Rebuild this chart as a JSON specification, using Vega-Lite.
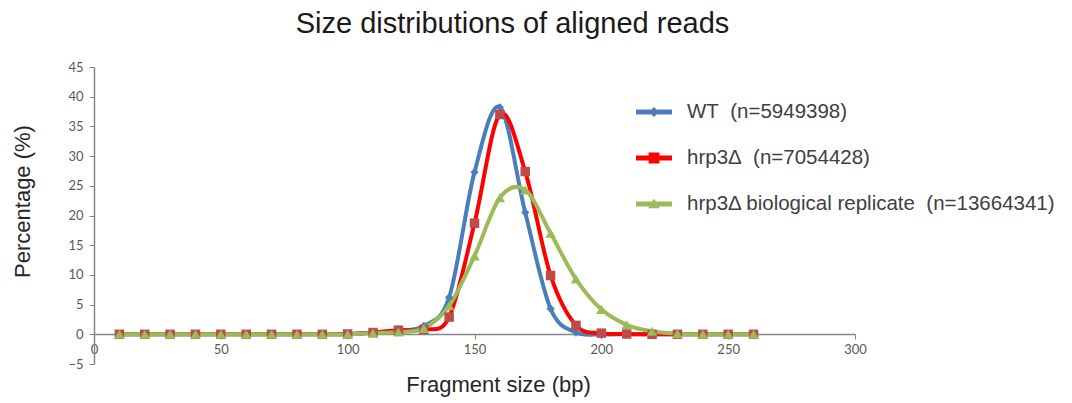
{
  "$schema": "https://vega.github.io/schema/vega-lite/v6.json",
  "width": 761,
  "height": 297,
  "autosize": "none",
  "padding": {"left": 94, "top": 67, "right": 217, "bottom": 39},
  "background": "white",
  "config": {"view": {"stroke": null}, "font": "Liberation Sans"},
  "title": {"text": "Size distributions of aligned reads", "fontSize": 29, "fontWeight": "normal", "color": "#1a1a1a", "font": "Liberation Sans", "anchor": "middle", "dx": 38, "offset": 22},
  "datasets": {
    "d": [
      {"x": 10, "series": "WT", "pct": 0}, {"x": 20, "series": "WT", "pct": 0}, {"x": 30, "series": "WT", "pct": 0}, {"x": 40, "series": "WT", "pct": 0}, {"x": 50, "series": "WT", "pct": 0}, {"x": 60, "series": "WT", "pct": 0}, {"x": 70, "series": "WT", "pct": 0}, {"x": 80, "series": "WT", "pct": 0}, {"x": 90, "series": "WT", "pct": 0}, {"x": 100, "series": "WT", "pct": 0.05}, {"x": 110, "series": "WT", "pct": 0.3}, {"x": 120, "series": "WT", "pct": 0.6}, {"x": 130, "series": "WT", "pct": 1.4}, {"x": 140, "series": "WT", "pct": 6.2}, {"x": 150, "series": "WT", "pct": 27.3}, {"x": 160, "series": "WT", "pct": 38.2}, {"x": 170, "series": "WT", "pct": 20.5}, {"x": 180, "series": "WT", "pct": 4.3}, {"x": 190, "series": "WT", "pct": 0.3}, {"x": 200, "series": "WT", "pct": 0}, {"x": 210, "series": "WT", "pct": 0}, {"x": 220, "series": "WT", "pct": 0}, {"x": 230, "series": "WT", "pct": 0}, {"x": 240, "series": "WT", "pct": 0}, {"x": 250, "series": "WT", "pct": 0}, {"x": 260, "series": "WT", "pct": 0},
      {"x": 10, "series": "hrp3", "pct": 0}, {"x": 20, "series": "hrp3", "pct": 0}, {"x": 30, "series": "hrp3", "pct": 0}, {"x": 40, "series": "hrp3", "pct": 0}, {"x": 50, "series": "hrp3", "pct": 0}, {"x": 60, "series": "hrp3", "pct": 0}, {"x": 70, "series": "hrp3", "pct": 0}, {"x": 80, "series": "hrp3", "pct": 0}, {"x": 90, "series": "hrp3", "pct": 0}, {"x": 100, "series": "hrp3", "pct": 0.05}, {"x": 110, "series": "hrp3", "pct": 0.3}, {"x": 120, "series": "hrp3", "pct": 0.7}, {"x": 130, "series": "hrp3", "pct": 0.8}, {"x": 140, "series": "hrp3", "pct": 2.9}, {"x": 150, "series": "hrp3", "pct": 18.7}, {"x": 160, "series": "hrp3", "pct": 37.0}, {"x": 170, "series": "hrp3", "pct": 27.4}, {"x": 180, "series": "hrp3", "pct": 9.9}, {"x": 190, "series": "hrp3", "pct": 1.5}, {"x": 200, "series": "hrp3", "pct": 0.2}, {"x": 210, "series": "hrp3", "pct": 0.05}, {"x": 220, "series": "hrp3", "pct": 0}, {"x": 230, "series": "hrp3", "pct": 0}, {"x": 240, "series": "hrp3", "pct": 0}, {"x": 250, "series": "hrp3", "pct": 0}, {"x": 260, "series": "hrp3", "pct": 0},
      {"x": 10, "series": "rep", "pct": 0}, {"x": 20, "series": "rep", "pct": 0}, {"x": 30, "series": "rep", "pct": 0}, {"x": 40, "series": "rep", "pct": 0}, {"x": 50, "series": "rep", "pct": 0}, {"x": 60, "series": "rep", "pct": 0}, {"x": 70, "series": "rep", "pct": 0}, {"x": 80, "series": "rep", "pct": 0}, {"x": 90, "series": "rep", "pct": 0}, {"x": 100, "series": "rep", "pct": 0}, {"x": 110, "series": "rep", "pct": 0.2}, {"x": 120, "series": "rep", "pct": 0.4}, {"x": 130, "series": "rep", "pct": 1.0}, {"x": 140, "series": "rep", "pct": 4.8}, {"x": 150, "series": "rep", "pct": 13.2}, {"x": 160, "series": "rep", "pct": 23.0}, {"x": 170, "series": "rep", "pct": 24.3}, {"x": 180, "series": "rep", "pct": 17.0}, {"x": 190, "series": "rep", "pct": 9.3}, {"x": 200, "series": "rep", "pct": 4.2}, {"x": 210, "series": "rep", "pct": 1.6}, {"x": 220, "series": "rep", "pct": 0.5}, {"x": 230, "series": "rep", "pct": 0.1}, {"x": 240, "series": "rep", "pct": 0}, {"x": 250, "series": "rep", "pct": 0}, {"x": 260, "series": "rep", "pct": 0}
    ]
  },
  "data": {"name": "d"},
  "encoding": {
    "x": {
      "field": "x", "type": "quantitative",
      "scale": {"domain": [0, 300], "nice": false},
      "axis": {
        "values": [0, 50, 100, 150, 200, 250, 300], "offset": -30, "grid": false, "labelFlush": false,
        "domainColor": "#868686", "tickColor": "#868686", "tickSize": 5, "domainWidth": 1.5,
        "labelFont": "Lato", "labelFontSize": 13, "labelColor": "#595959", "labelPadding": 4,
        "title": "Fragment size (bp)", "titleFont": "Liberation Sans", "titleFontSize": 22, "titleFontWeight": "normal", "titleColor": "#262626",
        "titleX": 404, "titleY": 50, "titleBaseline": "middle"
      }
    },
    "y": {
      "field": "pct", "type": "quantitative",
      "scale": {"domain": [-5, 45], "nice": false, "zero": false},
      "axis": {
        "values": [-5, 0, 5, 10, 15, 20, 25, 30, 35, 40, 45], "grid": false, "labelFlush": false,
        "domainColor": "#868686", "tickColor": "#868686", "tickSize": 5, "domainWidth": 1.5,
        "labelFont": "Lato", "labelFontSize": 13, "labelColor": "#595959", "labelPadding": 6,
        "title": "Percentage (%)", "titleFont": "Liberation Sans", "titleFontSize": 22, "titleFontWeight": "normal", "titleColor": "#262626",
        "titleX": -72, "titleY": 134, "titleBaseline": "middle", "titleAngle": -90
      }
    }
  },
  "resolve": {"scale": {"color": "independent", "fill": "independent", "shape": "independent", "size": "independent"}, "legend": {"color": "independent"}},
  "layer": [
    {
      "mark": {"type": "line", "interpolate": "cardinal", "strokeWidth": 4},
      "encoding": {
        "color": {
          "field": "series", "type": "nominal",
          "scale": {"domain": ["WT", "hrp3", "rep"], "range": ["#4a7ebb", "#ff0000", "#9bbb59"]},
          "legend": {
            "orient": "none", "legendX": 542, "legendY": 27, "title": null, "labelLimit": 0,
            "labelExpr": "datum.value === 'WT' ? 'WT\u00a0\u00a0(n=5949398)' : datum.value === 'hrp3' ? 'hrp3\u0394\u00a0\u00a0(n=7054428)' : 'hrp3\u0394 biological replicate\u00a0\u00a0(n=13664341)'",
            "labelFont": "Liberation Sans", "labelFontSize": 20.5, "labelColor": "#404040", "labelOffset": 15,
            "symbolSize": 1296, "rowPadding": 17, "symbolStrokeWidth": 0,
            "encode": {
              "symbols": {
                "update": {
                  "shape": {"signal": "['M-1,-0.14H1V0.14H-1Z M0,-0.28L0.28,0L0,0.28L-0.28,0Z', 'M-1,-0.14H1V0.14H-1Z M-0.3,-0.3H0.3V0.3H-0.3Z', 'M-1,-0.14H1V0.14H-1Z M0,-0.3L0.32,0.24L-0.32,0.24Z'][datum.index]"},
                  "size": {"value": 1296},
                  "fill": {"signal": "['#4a7ebb', '#ff0000', '#9bbb59'][datum.index]"},
                  "fillOpacity": {"value": 1},
                  "strokeWidth": {"value": 0}
                }
              }
            }
          }
        }
      }
    },
    {
      "mark": {"type": "point", "filled": true, "opacity": 1, "strokeWidth": 0},
      "encoding": {
        "fill": {
          "field": "series", "type": "nominal",
          "scale": {"domain": ["WT", "hrp3", "rep"], "range": ["#4a7ebb", "#be4b48", "#9bbb59"]},
          "legend": null
        },
        "shape": {
          "field": "series", "type": "nominal",
          "scale": {"domain": ["WT", "hrp3", "rep"], "range": ["diamond", "square", "triangle-up"]},
          "legend": null
        },
        "size": {
          "field": "series", "type": "nominal",
          "scale": {"domain": ["WT", "hrp3", "rep"], "range": [70, 110, 100]},
          "legend": null
        }
      }
    }
  ]
}
